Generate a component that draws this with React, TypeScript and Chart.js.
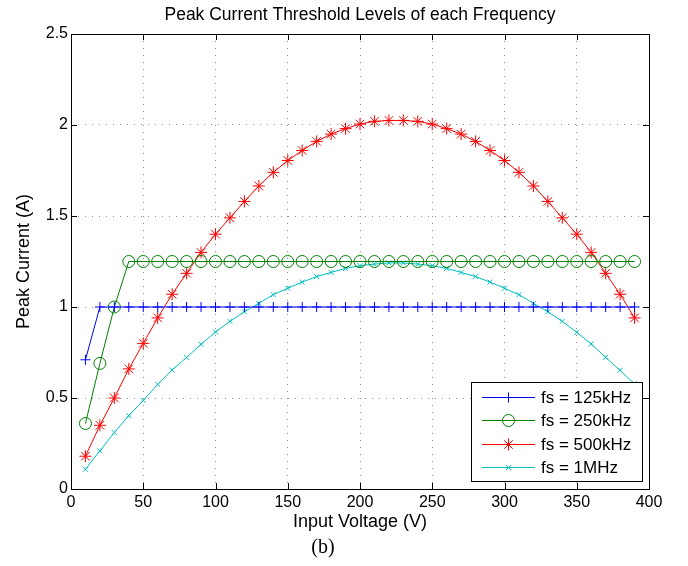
import React, { useEffect, useRef } from 'react';
import { Chart, registerables } from 'chart.js';
import { drawPoint } from 'chart.js/helpers';

Chart.register(...registerables);

// Input voltage sweep (V)
const inputVoltage = [
  10, 20, 30, 40, 50, 60, 70, 80, 90, 100, 110, 120, 130,
  140, 150, 160, 170, 180, 190, 200, 210, 220, 230, 240, 250, 260,
  270, 280, 290, 300, 310, 320, 330, 340, 350, 360, 370, 380, 390,
];

// Peak current thresholds (A) for each switching frequency
const peak125k = [
  0.71, 1, 1, 1, 1, 1, 1, 1, 1, 1, 1, 1, 1,
  1, 1, 1, 1, 1, 1, 1, 1, 1, 1, 1, 1, 1,
  1, 1, 1, 1, 1, 1, 1, 1, 1, 1, 1, 1, 1,
];
const peak250k = [
  0.36, 0.69, 1.0, 1.25, 1.25, 1.25, 1.25, 1.25, 1.25, 1.25, 1.25, 1.25, 1.25,
  1.25, 1.25, 1.25, 1.25, 1.25, 1.25, 1.25, 1.25, 1.25, 1.25, 1.25, 1.25, 1.25,
  1.25, 1.25, 1.25, 1.25, 1.25, 1.25, 1.25, 1.25, 1.25, 1.25, 1.25, 1.25, 1.25,
];
const peak500k = [
  0.18, 0.35, 0.5, 0.66, 0.8, 0.94, 1.07, 1.185, 1.3, 1.4, 1.49, 1.58, 1.665,
  1.74, 1.805, 1.86, 1.91, 1.95, 1.98, 2.005, 2.02, 2.025, 2.025, 2.02, 2.005, 1.98,
  1.95, 1.91, 1.86, 1.805, 1.74, 1.665, 1.58, 1.49, 1.4, 1.3, 1.185, 1.07, 0.94,
];
const peak1M = [
  0.108, 0.21, 0.31, 0.403, 0.487, 0.575, 0.654, 0.723, 0.795, 0.863, 0.921, 0.974, 1.02,
  1.068, 1.103, 1.137, 1.167, 1.19, 1.212, 1.227, 1.236, 1.242, 1.242, 1.236, 1.227, 1.212,
  1.19, 1.167, 1.137, 1.103, 1.068, 1.02, 0.974, 0.921, 0.861, 0.797, 0.723, 0.652, 0.578,
];

const seriesLabels = ['fs = 125kHz', 'fs = 250kHz', 'fs = 500kHz', 'fs = 1MHz'];
const xTickStep = 50;
const yTickStep = 0.5;

const SANS = '"Liberation Sans", Arial, Helvetica, sans-serif';

const toPoints = (ys: number[]) => ys.map((y, i) => ({ x: inputVoltage[i], y }));

// Boxed axes with inward ticks and a boxed legend in the lower right corner
const boxedAxes = {
  id: 'boxedAxes',
  afterDraw(chart: any) {
    const { ctx, chartArea } = chart;
    const { left, right, top, bottom } = chartArea;

    // legend
    const boxW = 171;
    const boxH = 99;
    const lx = right - 7 - boxW;
    const ly = bottom - 8 - boxH;
    ctx.save();
    ctx.fillStyle = '#ffffff';
    ctx.fillRect(lx, ly, boxW, boxH);
    ctx.strokeStyle = '#000000';
    ctx.lineWidth = 1;
    ctx.strokeRect(lx + 0.5, ly + 0.5, boxW, boxH);
    chart.data.datasets.forEach((ds: any, i: number) => {
      const y = Math.round(ly + 15 + i * 23.3) + 0.5;
      ctx.strokeStyle = ds.borderColor;
      ctx.lineWidth = ds.borderWidth;
      ctx.beginPath();
      ctx.moveTo(lx + 11, y);
      ctx.lineTo(lx + 64, y);
      ctx.stroke();
      ctx.fillStyle = 'rgba(0,0,0,0)';
      ctx.lineWidth = ds.pointBorderWidth;
      drawPoint(
        ctx,
        { pointStyle: ds.pointStyle, radius: ds.pointRadius, rotation: 0, borderWidth: ds.pointBorderWidth } as any,
        lx + 37.5,
        y
      );
      ctx.fillStyle = '#000000';
      ctx.font = `17px ${SANS}`;
      ctx.textAlign = 'left';
      ctx.textBaseline = 'middle';
      ctx.fillText(ds.label, lx + 70, y + 1);
    });

    // frame
    ctx.strokeStyle = '#000000';
    ctx.lineWidth = 1;
    ctx.strokeRect(left + 0.5, top + 0.5, right - left, bottom - top);

    // inward ticks on all four sides
    const tl = 6;
    const xs = chart.scales.x;
    const ys = chart.scales.y;
    ctx.beginPath();
    xs.ticks.forEach((t: any) => {
      const px = Math.round(xs.getPixelForValue(t.value)) + 0.5;
      ctx.moveTo(px, bottom);
      ctx.lineTo(px, bottom - tl);
      ctx.moveTo(px, top);
      ctx.lineTo(px, top + tl);
    });
    ys.ticks.forEach((t: any) => {
      const py = Math.round(ys.getPixelForValue(t.value)) + 0.5;
      ctx.moveTo(left, py);
      ctx.lineTo(left + tl, py);
      ctx.moveTo(right, py);
      ctx.lineTo(right - tl, py);
    });
    ctx.stroke();
    ctx.restore();
  },
};

export default function App() {
  const canvasRef = useRef<HTMLCanvasElement | null>(null);

  useEffect(() => {
    if (!canvasRef.current) return;
    const gridDash = [1, 6];
    const chart = new Chart(canvasRef.current, {
      type: 'line',
      data: {
        datasets: [
          {
            label: seriesLabels[0],
            data: toPoints(peak125k),
            borderColor: '#0000ff',
            backgroundColor: 'rgba(0,0,0,0)',
            borderWidth: 1,
            pointStyle: 'cross',
            pointRadius: 5,
            pointBorderWidth: 1,
            pointBackgroundColor: 'rgba(0,0,0,0)',
          },
          {
            label: seriesLabels[1],
            data: toPoints(peak250k),
            borderColor: '#008000',
            backgroundColor: 'rgba(0,0,0,0)',
            borderWidth: 1,
            pointStyle: 'circle',
            pointRadius: 6,
            pointBorderWidth: 1,
            pointBackgroundColor: 'rgba(0,0,0,0)',
          },
          {
            label: seriesLabels[2],
            data: toPoints(peak500k),
            borderColor: '#ff0000',
            backgroundColor: 'rgba(0,0,0,0)',
            borderWidth: 1,
            pointStyle: 'star',
            pointRadius: 6,
            pointBorderWidth: 1,
            pointBackgroundColor: 'rgba(0,0,0,0)',
          },
          {
            label: seriesLabels[3],
            data: toPoints(peak1M),
            borderColor: '#00bfbf',
            backgroundColor: 'rgba(0,0,0,0)',
            borderWidth: 1,
            pointStyle: 'crossRot',
            pointRadius: 3.5,
            pointBorderWidth: 1,
            pointBackgroundColor: 'rgba(0,0,0,0)',
          },
        ] as any,
      },
      options: {
        animation: false,
        responsive: false,
        devicePixelRatio: 1,
        layout: { padding: { left: 0, right: 39, top: 0, bottom: 32 } },
        plugins: {
          legend: { display: false },
          tooltip: { enabled: false },
          title: {
            display: true,
            text: 'Peak Current Threshold Levels of each Frequency',
            fullSize: false,
            color: '#000000',
            font: { family: SANS, size: 17.5, weight: 'normal' },
            padding: { top: 5, bottom: 8 },
          },
        },
        scales: {
          x: {
            type: 'linear',
            min: 0,
            max: 400,
            afterFit: (scale: any) => {
              scale.height = 45;
            },
            ticks: {
              stepSize: xTickStep,
              autoSkip: false,
              maxRotation: 0,
              padding: 4,
              color: '#000000',
              font: { family: SANS, size: 16 },
              callback: (v: any) => String(Number(v)),
            },
            grid: {
              color: '#8c8c8c',
              lineWidth: 1,
              drawTicks: false,
              borderDash: gridDash,
            } as any,
            border: { display: false, dash: gridDash },
            title: {
              display: true,
              text: 'Input Voltage (V)',
              color: '#000000',
              font: { family: SANS, size: 18 },
              padding: { top: 0, bottom: 1 },
            },
          },
          y: {
            type: 'linear',
            min: 0,
            max: 2.5,
            afterFit: (scale: any) => {
              scale.width = 71;
            },
            ticks: {
              stepSize: yTickStep,
              padding: 3,
              color: '#000000',
              font: { family: SANS, size: 16 },
              callback: (v: any) => String(Number(v)),
            },
            grid: {
              color: '#8c8c8c',
              lineWidth: 1,
              drawTicks: false,
              borderDash: gridDash,
            } as any,
            border: { display: false, dash: gridDash },
            title: {
              display: true,
              text: 'Peak Current (A)',
              color: '#000000',
              font: { family: SANS, size: 18 },
              padding: { top: 13, bottom: 0 },
            },
          },
        },
      } as any,
      plugins: [boxedAxes],
    });
    return () => chart.destroy();
  }, []);

  return (
    <div style={{ position: 'fixed', left: 0, top: 0, width: 688, height: 566, background: '#ffffff' }}>
      <canvas ref={canvasRef} width={688} height={566} style={{ display: 'block' }} />
      <div
        style={{
          position: 'absolute',
          left: 273,
          top: 535,
          width: 100,
          textAlign: 'center',
          fontFamily: '"Liberation Serif", "Times New Roman", serif',
          fontSize: 20,
          lineHeight: '22px',
          color: '#000000',
        }}
      >
        (b)
      </div>
    </div>
  );
}
